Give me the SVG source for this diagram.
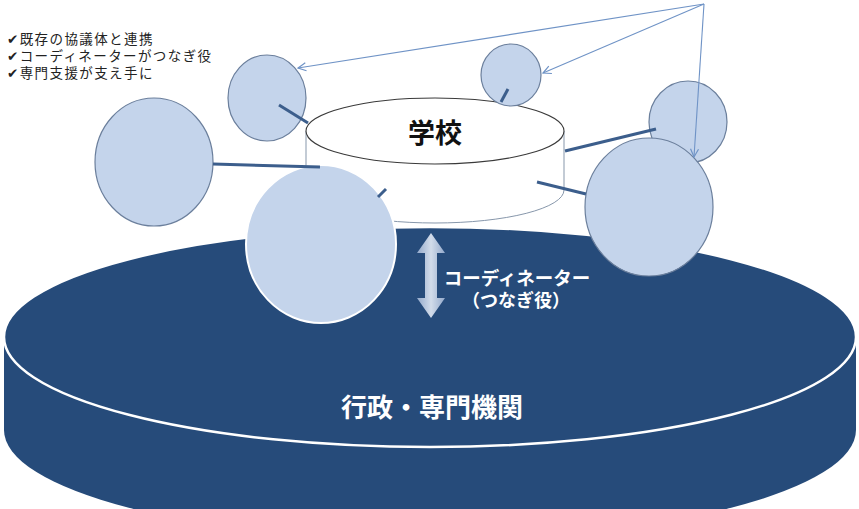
<svg xmlns="http://www.w3.org/2000/svg" width="859" height="509" viewBox="0 0 859 509">
<defs>
<style>
.bub{fill:#c4d4eb;stroke:#6b7f9c;stroke-width:1.2}
.conn{stroke:#3c5e8c;stroke-width:3;fill:none;stroke-linecap:butt}
.thin{stroke:#6f93c6;stroke-width:1.1;fill:none}
.jp{font-family:"Liberation Sans","Noto Sans CJK JP","DejaVu Sans",sans-serif}
</style>
<marker id="open" markerUnits="userSpaceOnUse" markerWidth="12" markerHeight="12" refX="9" refY="5" orient="auto">
<path d="M1,1 L9,5 L1,9" fill="none" stroke="#6f93c6" stroke-width="1.2"/>
</marker>
<linearGradient id="ag" x1="0" y1="0" x2="1" y2="0">
<stop offset="0" stop-color="#93a9cb"/>
<stop offset="0.5" stop-color="#d2dcea"/>
<stop offset="1" stop-color="#93a9cb"/>
</linearGradient>
</defs>
<rect width="859" height="509" fill="#ffffff"/>

<g id="checklist" class="jp" font-size="13.5" letter-spacing="1.4" fill="#222">
<text x="7" y="44">✔既存の協議体と連携</text>
<text x="7" y="61">✔コーディネーターがつなぎ役</text>
<text x="7" y="78">✔専門支援が支え手に</text>
</g>

<g id="gyosei">
<path d="M4,337 L4,430 A426,110 0 0 0 856,430 L856,337 Z" fill="#264b7a"/>
<ellipse cx="430" cy="337" rx="426" ry="110" fill="#264b7a" stroke="#ffffff" stroke-width="2.5"/>
<text class="jp" x="432" y="417" font-size="26" font-weight="bold" fill="#ffffff" text-anchor="middle">行政・専門機関</text>
</g>

<g id="school">
<path d="M306,131 L306,190 A129,33 0 0 0 564,190 L564,131 Z" fill="#ffffff" stroke="#8797ab" stroke-width="1"/>
<ellipse cx="435" cy="131" rx="129" ry="33" fill="#ffffff" stroke="#3a3a3a" stroke-width="1.1"/>
<text class="jp" x="435" y="143" font-size="27" font-weight="bold" fill="#111" text-anchor="middle">学校</text>
</g>

<g id="coordinator">
<polygon points="431,233 445,253 437,253 437,298 445,298 431,318 417,298 425,298 425,253 417,253" fill="url(#ag)"/>
<text class="jp" x="517" y="285" font-size="18.5" font-weight="bold" fill="#ffffff" text-anchor="middle">コーディネーター</text>
<text class="jp" x="516" y="307" font-size="18" font-weight="bold" fill="#ffffff" text-anchor="middle">（つなぎ役）</text>
</g>

<g id="circle-topleft"><ellipse class="bub" cx="267" cy="98" rx="39" ry="43"/></g>
<g id="circle-left"><ellipse class="bub" cx="154" cy="162" rx="59" ry="64"/></g>
<g id="circle-top"><ellipse class="bub" cx="511" cy="75" rx="30" ry="31"/></g>
<g id="circle-right-top"><ellipse class="bub" cx="688" cy="122" rx="39" ry="41"/></g>
<g id="circle-right"><ellipse class="bub" cx="649" cy="207" rx="64" ry="69"/></g>
<g id="circle-front"><ellipse cx="321" cy="244" rx="75" ry="79" fill="#c4d4eb" stroke="#ffffff" stroke-width="2"/></g>

<g id="connectors">
<line class="conn" x1="279" y1="105" x2="308" y2="123"/>
<line class="conn" x1="213" y1="164" x2="320" y2="167"/>
<line class="conn" x1="508" y1="89" x2="501" y2="102"/>
<line class="conn" x1="378" y1="197" x2="386" y2="189"/>
<line class="conn" x1="656" y1="129" x2="565" y2="151"/>
<line class="conn" x1="537" y1="182" x2="586" y2="194"/>
<line class="thin" x1="704" y1="4" x2="298" y2="68" marker-end="url(#open)"/>
<line class="thin" x1="704" y1="4" x2="543" y2="73" marker-end="url(#open)"/>
<line class="thin" x1="704" y1="4" x2="694" y2="157" marker-end="url(#open)"/>
</g>
</svg>
